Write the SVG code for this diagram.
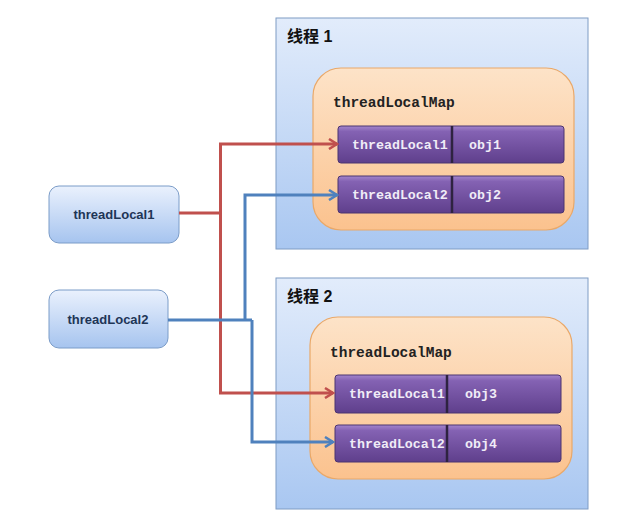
<svg xmlns="http://www.w3.org/2000/svg" width="622" height="519" viewBox="0 0 622 519">
<defs>
<linearGradient id="gThread" x1="0" y1="0" x2="0" y2="1"><stop offset="0" stop-color="#e2ecfb"/><stop offset="1" stop-color="#a9c7f1"/></linearGradient>
<linearGradient id="gMap" x1="0" y1="0" x2="0" y2="1"><stop offset="0" stop-color="#fde3c8"/><stop offset="1" stop-color="#fbc28e"/></linearGradient>
<linearGradient id="gRow" x1="0" y1="0" x2="0" y2="1"><stop offset="0" stop-color="#a385cc"/><stop offset="0.15" stop-color="#8462b3"/><stop offset="1" stop-color="#5f3f8c"/></linearGradient>
<linearGradient id="gNode" x1="0" y1="0" x2="0" y2="1"><stop offset="0" stop-color="#eaf1fd"/><stop offset="1" stop-color="#a6c4ef"/></linearGradient>
<marker id="arR" viewBox="0 0 12 12" refX="10" refY="6" markerWidth="12" markerHeight="12" markerUnits="userSpaceOnUse" orient="auto"><path d="M2,1 L10,6 L2,11" fill="none" stroke="#c0504d" stroke-width="2.5"/></marker>
<marker id="arB" viewBox="0 0 12 12" refX="10" refY="6" markerWidth="12" markerHeight="12" markerUnits="userSpaceOnUse" orient="auto"><path d="M2,1 L10,6 L2,11" fill="none" stroke="#4f81bd" stroke-width="2.5"/></marker>
</defs>
<style>
.thread{fill:url(#gThread);stroke:#7f9cc4;stroke-width:1}
.map{fill:url(#gMap);stroke:#eaa868;stroke-width:1.2}
.row{fill:url(#gRow);stroke:#4b3470;stroke-width:1}
.div{stroke:#2e2340;stroke-width:2.5}
.node{fill:url(#gNode);stroke:#7b9cc8;stroke-width:1}
.title{font-family:"Liberation Sans","Noto Sans CJK SC",sans-serif;font-weight:bold;font-size:16px;fill:#111}
.maplbl{font-family:"Liberation Mono",monospace;font-weight:bold;font-size:14.5px;fill:#222}
.rowtxt{font-family:"Liberation Mono",monospace;font-weight:bold;font-size:13.3px;fill:#f0ecf7}
.nodetxt{font-family:"Liberation Sans",sans-serif;font-weight:bold;font-size:13px;fill:#1e3556;text-anchor:middle}
.red{fill:none;stroke:#c0504d;stroke-width:3}
.blue{fill:none;stroke:#4f81bd;stroke-width:3}
</style>
<rect width="622" height="519" fill="#ffffff"/>
<g id="thread1">
<rect class="thread" x="276" y="18" width="312" height="231"/>
<text class="title" x="287" y="42">线程 1</text>
<g id="map1">
<rect class="map" x="313" y="68" width="261" height="162" rx="28"/>
<text class="maplbl" x="333" y="107">threadLocalMap</text>
</g>
<g id="t1row1">
<rect class="row" x="338" y="126" width="226" height="37" rx="3"/>
<line class="div" x1="452" y1="126" x2="452" y2="163"/>
<text class="rowtxt" x="352" y="149">threadLocal1</text>
<text class="rowtxt" x="469" y="149">obj1</text>
</g>
<g id="t1row2">
<rect class="row" x="338" y="176" width="226" height="37" rx="3"/>
<line class="div" x1="452" y1="176" x2="452" y2="213"/>
<text class="rowtxt" x="352" y="199">threadLocal2</text>
<text class="rowtxt" x="469" y="199">obj2</text>
</g>
</g>
<g id="thread2">
<rect class="thread" x="276" y="278" width="312" height="231"/>
<text class="title" x="287" y="302">线程 2</text>
<g id="map2">
<rect class="map" x="310" y="317" width="262" height="162" rx="28"/>
<text class="maplbl" x="330" y="357">threadLocalMap</text>
</g>
<g id="t2row1">
<rect class="row" x="335" y="375" width="226" height="38" rx="3"/>
<line class="div" x1="447" y1="375" x2="447" y2="413"/>
<text class="rowtxt" x="349" y="398">threadLocal1</text>
<text class="rowtxt" x="465" y="398">obj3</text>
</g>
<g id="t2row2">
<rect class="row" x="335" y="425" width="226" height="37" rx="3"/>
<line class="div" x1="447" y1="425" x2="447" y2="462"/>
<text class="rowtxt" x="349" y="448">threadLocal2</text>
<text class="rowtxt" x="465" y="448">obj4</text>
</g>
</g>
<g id="node-threadLocal1">
<rect class="node" x="49" y="186" width="130" height="57" rx="10"/>
<text class="nodetxt" x="114" y="219">threadLocal1</text>
</g>
<g id="node-threadLocal2">
<rect class="node" x="49" y="290" width="119" height="58" rx="10"/>
<text class="nodetxt" x="108" y="324">threadLocal2</text>
</g>
<g id="connectors">
<path class="red" d="M179,213 H220.5"/>
<path class="red" d="M220.5,213 V144 H337" marker-end="url(#arR)"/>
<path class="red" d="M220.5,213 V393 H333" marker-end="url(#arR)"/>
<path class="blue" d="M168,320 H252"/>
<path class="blue" d="M245,320 V195 H337" marker-end="url(#arB)"/>
<path class="blue" d="M252,320 V442 H333" marker-end="url(#arB)"/>
</g>
</svg>
